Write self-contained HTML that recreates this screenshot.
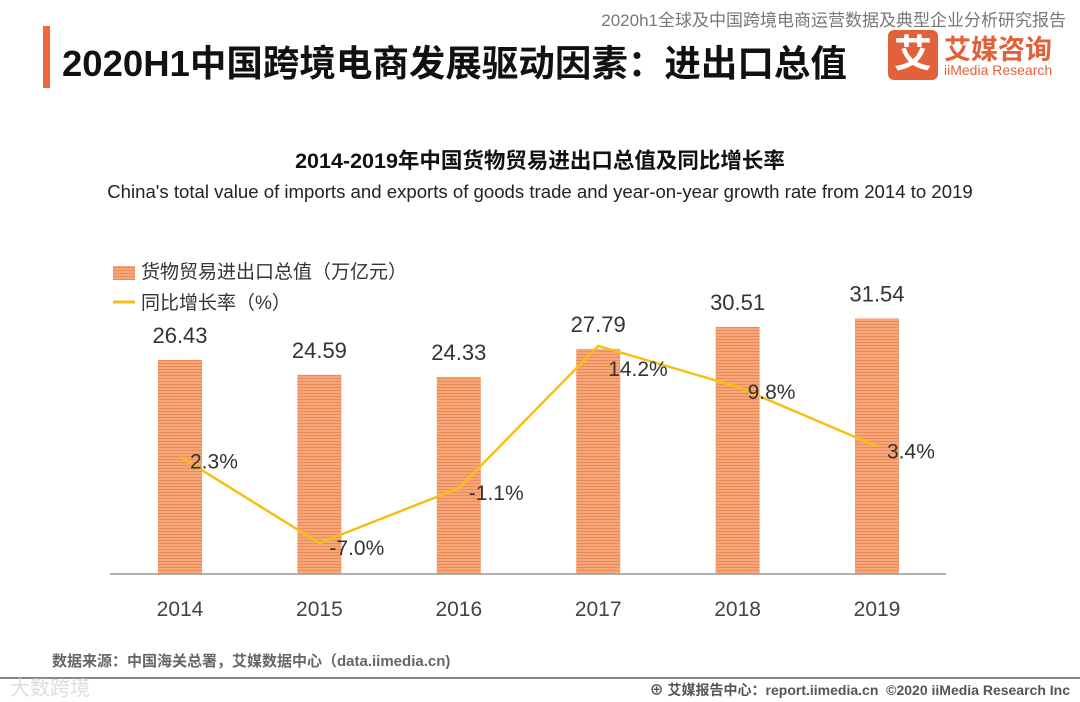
<!DOCTYPE html>
<html><head><meta charset="utf-8"><style>
body{margin:0;width:1080px;height:702px;background:#fff;position:relative;overflow:hidden;font-family:"Liberation Sans","Noto Sans CJK SC",sans-serif;}
.a{position:absolute;white-space:nowrap}
</style></head><body>
<div class="a" style="right:14px;top:6px;font-size:17px;color:#777">2020h1全球及中国跨境电商运营数据及典型企业分析研究报告</div>
<div class="a" style="left:43px;top:26px;width:7px;height:62px;background:#f0683c"></div>
<div class="a" style="left:62px;top:34px;font-size:36.5px;font-weight:bold;color:#111">2020H1中国跨境电商发展驱动因素：进出口总值</div>
<div class="a" style="left:888px;top:30px;width:50px;height:50px;background:#e2603a;border-radius:6px;color:#fff;font-size:38px;font-weight:bold;text-align:center;line-height:50px">艾</div>
<div class="a" style="left:944px;top:28px;font-size:27px;font-weight:bold;color:#e2603a">艾媒咨询</div>
<div class="a" style="left:944px;top:62px;font-size:14px;color:#e2603a">iiMedia Research</div>
<div class="a" style="left:0;width:1080px;text-align:center;top:144px;font-size:21.5px;font-weight:bold;color:#111">2014-2019年中国货物贸易进出口总值及同比增长率</div>
<div class="a" style="left:0;width:1080px;text-align:center;top:181px;font-size:18.6px;color:#222">China's total value of imports and exports of goods trade and year-on-year growth rate from 2014 to 2019</div>
<svg class="a" style="left:0;top:0" width="1080" height="702">
<defs><pattern id="st" width="4" height="3" patternUnits="userSpaceOnUse"><rect width="4" height="3" fill="#f4a77a"/><rect width="4" height="1" fill="#f08a55"/></pattern></defs>
<rect x="113" y="266" width="22" height="14" fill="url(#st)"/>
<text x="141" y="278" font-size="19" fill="#333">货物贸易进出口总值（万亿元）</text>
<line x1="113" y1="302" x2="135" y2="302" stroke="#f5c016" stroke-width="3"/>
<text x="141" y="309" font-size="19" fill="#333">同比增长率（%）</text>
<line x1="110" y1="574" x2="946" y2="574" stroke="#999" stroke-width="1.5"/>
<g id="g"></g>
</svg>
<div class="a" style="left:52px;top:650px;font-size:15px;font-weight:bold;color:#666">数据来源：中国海关总署，艾媒数据中心（data.iimedia.cn)</div>
<div class="a" style="left:0;top:677px;width:1080px;height:2px;background:#888"></div>
<div class="a" style="left:10px;top:672px;font-size:20px;color:#ddd">大数跨境</div>
<div class="a" style="right:10px;top:680px;font-size:14px;font-weight:bold;color:#555">⊕ 艾媒报告中心：report.iimedia.cn &nbsp;©2020 iiMedia Research Inc</div>
<script>
const years=["2014","2015","2016","2017","2018","2019"];
const totals=[26.43,24.59,24.33,27.79,30.51,31.54];
const growth=[2.3,-7.0,-1.1,14.2,9.8,3.4];
const g=document.getElementById('g');const NS='http://www.w3.org/2000/svg';
const xp=i=>180+i*139.4;const yb=v=>574-v*8.1;const yl=v=>478-v*9.3;
function mk(t,a){const e=document.createElementNS(NS,t);for(const k in a)e.setAttribute(k,a[k]);g.appendChild(e);return e;}
totals.forEach((v,i)=>{
const r=mk('rect',{x:xp(i)-22,y:yb(v),width:44,height:574-yb(v),fill:'url(#st)'});


const t=mk('text',{x:xp(i),y:yb(v)-17,'text-anchor':'middle','font-size':22,fill:'#333'});t.textContent=v.toFixed(2);


const y=mk('text',{x:xp(i),y:616,'text-anchor':'middle','font-size':21,fill:'#444'});y.textContent=years[i];


});
const p=mk('polyline',{points:growth.map((v,i)=>xp(i)+','+yl(v)).join(' '),fill:'none',stroke:'#f5c016','stroke-width':2.5});


growth.forEach((v,i)=>{
const t=mk('text',{x:xp(i)+10,y:yl(v)+(v>12?30:12),'font-size':21,fill:'#333'});t.textContent=v.toFixed(1)+'%';


});
</script>
</body></html>
